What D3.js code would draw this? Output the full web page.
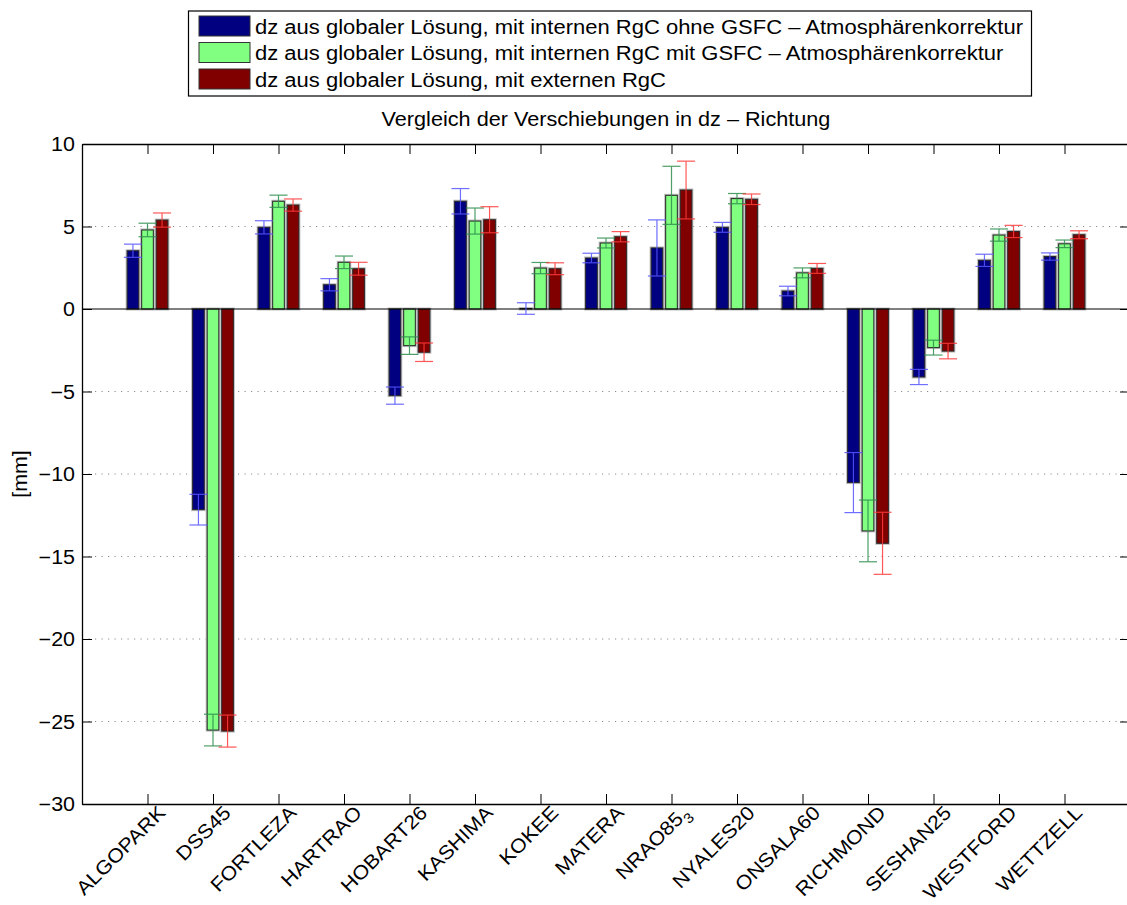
<!DOCTYPE html>
<html>
<head>
<meta charset="utf-8">
<script src="https://cdn.jsdelivr.net/npm/d3@7"></script>
<style>
  html, body { margin: 0; padding: 0; background: #fff; }
  svg { display: block; }
  text { font-family: "Liberation Sans", Arial, Helvetica, sans-serif; fill: #000; }
</style>
</head>
<body>
<svg id="chart" width="1127" height="905"></svg>
<script>
// Stations (x categories); "_3" marks a subscript index
const stations = ["ALGOPARK", "DSS45", "FORTLEZA", "HARTRAO", "HOBART26", "KASHIMA", "KOKEE",
  "MATERA", "NRAO85_3", "NYALES20", "ONSALA60", "RICHMOND", "SESHAN25", "WESTFORD", "WETTZELL"];

// dz displacement [mm] and its standard deviation per solution
const dzOhneGsfc  = [3.53, -12.16, 4.95, 1.47, -5.25, 6.53, 0.03, 3.09, 3.70, 4.95, 1.09, -10.52, -4.12, 2.95, 3.18];
const errOhneGsfc = [0.40, 0.93, 0.40, 0.37, 0.52, 0.77, 0.35, 0.29, 1.70, 0.30, 0.29, 1.82, 0.46, 0.37, 0.22];

const dzMitGsfc   = [4.79, -25.52, 6.53, 2.83, -2.22, 5.33, 2.48, 4.00, 6.89, 6.69, 2.19, -13.45, -2.34, 4.48, 3.95];
const errMitGsfc  = [0.41, 0.96, 0.37, 0.38, 0.53, 0.79, 0.34, 0.30, 1.76, 0.31, 0.30, 1.87, 0.45, 0.37, 0.23];

const dzExtern    = [5.39, -25.58, 6.30, 2.44, -2.62, 5.41, 2.44, 4.38, 7.21, 6.65, 2.46, -14.20, -2.55, 4.70, 4.50];
const errExtern   = [0.43, 0.97, 0.37, 0.39, 0.56, 0.79, 0.36, 0.31, 1.75, 0.32, 0.30, 1.88, 0.47, 0.37, 0.24];

const seriesNames = [
  "dz aus globaler Lösung, mit internen RgC ohne GSFC – Atmosphärenkorrektur",
  "dz aus globaler Lösung, mit internen RgC mit GSFC – Atmosphärenkorrektur",
  "dz aus globaler Lösung, mit externen RgC"
];
const yTicks = [10, 5, 0, -5, -10, -15, -20, -25, -30];
const titleText = "Vergleich der Verschiebungen in dz – Richtung";
const yLabel = "[mm]";

const barColors = ["#000080", "#80ff80", "#800000"];
const errColors = ["#5555ff", "#2e8f4e", "#ff3a3a"];

const series = [
  { name: seriesNames[0], values: dzOhneGsfc, errors: errOhneGsfc },
  { name: seriesNames[1], values: dzMitGsfc,  errors: errMitGsfc },
  { name: seriesNames[2], values: dzExtern,   errors: errExtern }
];

const svg = d3.select("#chart");
const FONT = 19.5;
const STRETCH = 1.1;   // glyphs are drawn slightly wide

function widen(sel, k = STRETCH) {
  sel.each(function () {
    const len = this.getComputedTextLength();
    d3.select(this).attr("textLength", len * k).attr("lengthAdjust", "spacingAndGlyphs");
  });
}

// Plot box
const plot = { left: 82, right: 1130, top: 144, bottom: 804 };

// x in "bar units": stations at 1..n, limits 0..n+1
const x = d3.scaleLinear().domain([0, stations.length + 1]).range([plot.left, plot.right]);
const y = d3.scaleLinear().domain([-30, 10]).range([plot.bottom, plot.top]);

const groupWidth = Math.min(0.8, 3 / (3 + 1.5));
const barW = groupWidth / 3 * 0.8;
const capW = 0.275;
const offset = i => (i - 1) * groupWidth / 3;

// Dotted grid
const g = svg.append("g");
g.selectAll("line.grid")
  .data(yTicks.filter(t => t !== 0 && t !== 10 && t !== -30))
  .join("line")
  .attr("class", "grid")
  .attr("x1", plot.left).attr("x2", plot.right)
  .attr("y1", d => y(d)).attr("y2", d => y(d))
  .attr("stroke", "#8c8c8c").attr("stroke-width", 1)
  .attr("stroke-dasharray", "1.2,5.3");

// Bars
series.forEach((s, si) => {
  const bars = g.append("g");
  const rects = s.values.map((v, i) => ({ v, i }));
  // soft halo
  bars.selectAll("rect.halo").data(rects).join("rect")
    .attr("x", d => x(d.i + 1 + offset(si) - barW / 2))
    .attr("width", x(barW) - x(0))
    .attr("y", d => y(Math.max(0, d.v)))
    .attr("height", d => Math.abs(y(d.v) - y(0)))
    .attr("fill", "none").attr("stroke", "#bdbdbd").attr("stroke-width", 3);
  bars.selectAll("rect.bar").data(rects).join("rect")
    .attr("class", "bar")
    .attr("x", d => x(d.i + 1 + offset(si) - barW / 2))
    .attr("width", x(barW) - x(0))
    .attr("y", d => y(Math.max(0, d.v)))
    .attr("height", d => Math.abs(y(d.v) - y(0)))
    .attr("fill", barColors[si]).attr("stroke", "#262626").attr("stroke-width", 1);
});

// Zero baseline
g.append("line")
  .attr("x1", plot.left).attr("x2", plot.right)
  .attr("y1", y(0)).attr("y2", y(0))
  .attr("stroke", "#000").attr("stroke-width", 1);

// Error bars
series.forEach((s, si) => {
  const eb = g.append("g").attr("stroke", errColors[si]).attr("stroke-width", 1.2).attr("opacity", 0.85);
  s.values.forEach((v, i) => {
    const cx = i + 1 + offset(si);
    const lo = v - s.errors[i], hi = v + s.errors[i];
    eb.append("line").attr("x1", x(cx)).attr("x2", x(cx)).attr("y1", y(lo)).attr("y2", y(hi));
    eb.append("line").attr("x1", x(cx - capW / 2)).attr("x2", x(cx + capW / 2)).attr("y1", y(lo)).attr("y2", y(lo));
    eb.append("line").attr("x1", x(cx - capW / 2)).attr("x2", x(cx + capW / 2)).attr("y1", y(hi)).attr("y2", y(hi));
  });
});

// Axes box and inward ticks
const axisG = svg.append("g");
const tickLen = 10;
const xTickVals = d3.range(1, stations.length + 1);

axisG.append("g").attr("transform", `translate(0,${plot.bottom})`)
  .call(d3.axisBottom(x).tickValues(xTickVals).tickSizeInner(-tickLen).tickSizeOuter(0).tickFormat(""));
axisG.append("g").attr("transform", `translate(0,${plot.top})`)
  .call(d3.axisTop(x).tickValues(xTickVals).tickSizeInner(-tickLen).tickSizeOuter(0).tickFormat(""));
axisG.append("g").attr("transform", `translate(${plot.left},0)`)
  .call(d3.axisLeft(y).tickValues(yTicks).tickSizeInner(-tickLen).tickSizeOuter(0).tickFormat(""));
axisG.append("g").attr("transform", `translate(${plot.right},0)`)
  .call(d3.axisRight(y).tickValues(yTicks).tickSizeInner(-tickLen).tickSizeOuter(0).tickFormat(""));
axisG.selectAll(".domain").attr("stroke", "#000").attr("stroke-width", 1.3);
axisG.selectAll(".tick line").attr("stroke", "#000").attr("stroke-width", 1);

// Y tick labels
svg.append("g").selectAll("text")
  .data(yTicks).join("text")
  .attr("x", plot.left - 7)
  .attr("y", d => y(d))
  .attr("dy", "0.36em")
  .attr("text-anchor", "end")
  .attr("font-size", FONT)
  .text(d => d3.format("d")(d))
  .call(widen);

// X tick labels, rotated
const xl = svg.append("g").selectAll("text")
  .data(stations).join("text")
  .attr("transform", (d, i) => `translate(${x(i + 1) + 19},${plot.bottom + 10}) rotate(-45)`)
  .attr("text-anchor", "end")
  .attr("font-size", FONT);
xl.each(function (d) {
  const t = d3.select(this);
  const parts = d.split("_");
  t.append("tspan").text(parts[0]);
  if (parts[1]) {
    t.append("tspan").attr("font-size", FONT * 0.72).attr("dy", "0.45em").text(parts[1]);
  }
});
xl.call(widen);

// Y axis label
svg.append("text")
  .attr("transform", `translate(27,${(plot.top + plot.bottom) / 2}) rotate(-90)`)
  .attr("text-anchor", "middle")
  .attr("font-size", FONT)
  .text(yLabel)
  .call(widen);

// Title
svg.append("text")
  .attr("x", (plot.left + plot.right) / 2)
  .attr("y", 126)
  .attr("text-anchor", "middle")
  .attr("font-size", FONT)
  .text(titleText)
  .call(widen, 1.11);

// Legend
const legend = svg.append("g");
legend.append("rect")
  .attr("x", 188.5).attr("y", 11).attr("width", 843).attr("height", 85)
  .attr("fill", "#fff").attr("stroke", "#000").attr("stroke-width", 1.2);
const rows = legend.selectAll("g.row").data(series).join("g")
  .attr("class", "row")
  .attr("transform", (d, i) => `translate(0,${16 + i * 26.5})`);
rows.append("rect")
  .attr("x", 199).attr("y", 0).attr("width", 51).attr("height", 20)
  .attr("fill", (d, i) => barColors[i]).attr("stroke", "#333").attr("stroke-width", 1);
rows.append("text")
  .attr("x", 255).attr("y", 17.5)
  .attr("font-size", 20)
  .text(d => d.name)
  .call(widen, 1.1);
</script>
</body>
</html>
